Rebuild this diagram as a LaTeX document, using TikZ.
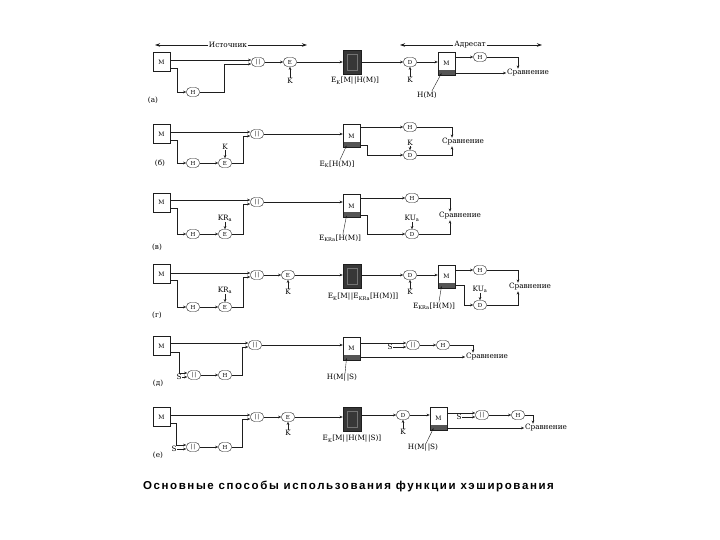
\documentclass[tikz,border=0pt]{standalone}
\usepackage{fontspec}
\setmainfont{DejaVu Serif}
\newfontfamily\capfont[LetterSpace=14]{Liberation Sans}
\usetikzlibrary{
    arrows.meta,
    positioning,
    calc
}
\definecolor{ciphgray}{RGB}{55,55,55}
\definecolor{bandgray}{RGB}{85,85,85}
\definecolor{inkline}{RGB}{30,30,30}
\newcommand{\cat}{|\kern0.7pt|}
\tikzset{
  msg/.style     = {draw, fill=white, minimum width=17pt, minimum height=19pt,
                    inner sep=0pt, font=\fontsize{6}{6}\selectfont},
  recv/.style    = {msg, minimum height=23pt,
                    path picture={\fill[bandgray] (path picture bounding box.south west)
                      rectangle ([yshift=5pt]path picture bounding box.south east);}},
  ciph/.style    = {draw, fill=ciphgray, minimum width=18pt, minimum height=24pt,
                    inner sep=0pt,
                    path picture={\draw[black!55, line width=0.6pt]
                      ([shift={(4pt,4pt)}]path picture bounding box.south west)
                      rectangle ([shift={(-4pt,-4pt)}]path picture bounding box.north east);}},
  op/.style      = {draw, fill=white, rounded corners=4pt, minimum width=13pt,
                    minimum height=9pt, inner sep=0pt, font=\fontsize{5.5}{5.5}\selectfont},
  lbl/.style     = {inner sep=0.6pt, font=\fontsize{7.3}{8}\selectfont},
  arr/.style     = {-{Stealth[length=3.2pt, width=2.6pt]}, line width=0.5pt, inkline},
  harr/.style    = {-{Stealth[length=5pt, width=3.5pt]}, line width=0.7pt, inkline},
  pointer/.style = {-{Stealth[length=2.4pt, width=2pt]}, line width=0.4pt, inkline}
}

\begin{document}
\begin{tikzpicture}[x=1pt, y=-1pt, draw=inkline]
  \useasboundingbox (0,0) rectangle (720,540);

  % header
  \node[lbl, fill=white] (src) at (228,45) {Источник};
  \coordinate (srcL) at (155,45);
  \coordinate (srcR) at (307,45);
  \draw[harr] (src) -- (srcL);
  \draw[harr] (src) -- (srcR);
  \node[lbl, fill=white] (dst) at (470,45) {Адресат};
  \coordinate (dstL) at (400,45);
  \coordinate (dstR) at (542,45);
  \draw[harr] (dst) -- (dstL);
  \draw[harr] (dst) -- (dstR);

  % (а)
  \node[msg]  (mA)    at (161.5,62) {M};
  \node[op]   (catA)  at (258,62) {\cat};
  \node[op]   (hA)    at (193,92) {H};
  \node[op]   (eA)    at (290,62) {E};
  \node[lbl]  (kA)    at (290,81) {K};
  \node[ciph] (cA)    at (352,62) {};
  \node[lbl]  (cAlab) at (355,81) {E\textsubscript{K}[M\cat H(M)]};
  \node[op]   (dA)    at (410,62) {D};
  \node[lbl]  (kA2)   at (410,80) {K};
  \node[recv] (rA)    at (446.5,63.5) {M};
  \node[op]   (hA2)   at (480,57) {H};
  \node[lbl]  (cmpA)  at (528,73) {Сравнение};
  \node[lbl]  (rAlab) at (427,95) {H(M)};
  \node[lbl]  (tagA)  at (153,100) {(а)};
  \coordinate (catAi1) at ([yshift=2pt]catA.west);
  \coordinate (catAi2) at ([yshift=-2pt]catA.west);
  \draw[arr] (mA.east |- catAi1) -- (catAi1);
  \draw[arr] ([yshift=-6pt]mA.east) -- ++(7,0) |- (hA);
  \draw[arr] (hA) -| ([xshift=-27pt]catAi2) -- (catAi2);
  \draw[arr] (catA) -- (eA);
  \draw[arr] (kA) -- (eA);
  \draw[arr] (eA) -- (eA -| cA.west);
  \draw[arr] (cA.east |- dA) -- (dA);
  \draw[arr] (kA2) -- (dA);
  \draw[arr] (dA) -- (dA -| rA.west);
  \draw[arr] (rA.east |- hA2) -- (hA2);
  \draw[arr] (hA2) -| ([xshift=-10pt]cmpA.north);
  \draw[arr] (rA.east |- cmpA.west) -- (cmpA.west);
  \draw[pointer] ([xshift=5pt]rAlab.north) -- ([xshift=-5pt,yshift=2pt]rA.south);

  % (б)
  \node[msg]  (mB)    at (161.5,134) {M};
  \node[op]   (catB)  at (257,134) {\cat};
  \node[op]   (hB)    at (193,163) {H};
  \node[op]   (eB)    at (225,163) {E};
  \node[lbl]  (kB)    at (225,147) {K};
  \node[recv] (rB)    at (351.5,136) {M};
  \node[lbl]  (rBlab) at (337,164) {E\textsubscript{K}[H(M)]};
  \node[op]   (hB2)   at (410,127) {H};
  \node[op]   (dB)    at (410,155) {D};
  \node[lbl]  (kB2)   at (410,143) {K};
  \node[lbl]  (cmpB)  at (463,142) {Сравнение};
  \node[lbl]  (tagB)  at (160,163) {(б)};
  \coordinate (catBi1) at ([yshift=2pt]catB.west);
  \coordinate (catBi2) at ([yshift=-2pt]catB.west);
  \draw[arr] (mB.east |- catBi1) -- (catBi1);
  \draw[arr] ([yshift=-6pt]mB.east) -- ++(7,0) |- (hB);
  \draw[arr] (hB) -- (eB);
  \draw[arr] (kB) -- (eB);
  \draw[arr] (eB) -| ([xshift=-7pt]catBi2) -- (catBi2);
  \draw[arr] (catB) -- (catB -| rB.west);
  \draw[arr] (rB.east |- hB2) -- (hB2);
  \draw[arr] ([yshift=-9pt]rB.east) -- ++(7,0) |- (dB);
  \draw[arr] (kB2) -- (dB);
  \draw[arr] (hB2) -| ([xshift=-11pt]cmpB.north);
  \draw[arr] (dB) -| ([xshift=-11pt]cmpB.south);
  \draw[pointer] ([xshift=3pt]rBlab.north) -- ([xshift=-5pt,yshift=2pt]rB.south);

  % (в)
  \node[msg]  (mC)    at (161.5,202.5) {M};
  \node[op]   (catC)  at (257,202) {\cat};
  \node[op]   (hC)    at (193,234) {H};
  \node[op]   (eC)    at (225,234) {E};
  \node[lbl]  (kC)    at (225,218) {KR\textsubscript{a}};
  \node[recv] (rC)    at (351.5,206) {M};
  \node[lbl]  (rClab) at (340,238) {E\textsubscript{KRa}[H(M)]};
  \node[op]   (hC2)   at (412,198) {H};
  \node[op]   (dC)    at (412,234) {D};
  \node[lbl]  (kC2)   at (412,218) {KU\textsubscript{a}};
  \node[lbl]  (cmpC)  at (460,216) {Сравнение};
  \node[lbl]  (tagC)  at (157,247) {(в)};
  \coordinate (catCi1) at ([yshift=2pt]catC.west);
  \coordinate (catCi2) at ([yshift=-2pt]catC.west);
  \draw[arr] (mC.east |- catCi1) -- (catCi1);
  \draw[arr] ([yshift=-6pt]mC.east) -- ++(7,0) |- (hC);
  \draw[arr] (hC) -- (eC);
  \draw[arr] (kC) -- (eC);
  \draw[arr] (eC) -| ([xshift=-7pt]catCi2) -- (catCi2);
  \draw[arr] (catC) -- (catC -| rC.west);
  \draw[arr] (rC.east |- hC2) -- (hC2);
  \draw[arr] ([yshift=-9pt]rC.east) -- ++(7,0) |- (dC);
  \draw[arr] (kC2) -- (dC);
  \draw[arr] (hC2) -| ([xshift=-10pt]cmpC.north);
  \draw[arr] (dC) -| ([xshift=-10pt]cmpC.south);
  \draw[pointer] ([xshift=3pt]rClab.north) -- ([xshift=-5pt,yshift=2pt]rC.south);

  % (г)
  \node[msg]  (mD)    at (161.5,274) {M};
  \node[op]   (catD)  at (257,275) {\cat};
  \node[op]   (hD)    at (193,307) {H};
  \node[op]   (eD)    at (225,307) {E};
  \node[lbl]  (kD)    at (225,290) {KR\textsubscript{a}};
  \node[op]   (eD2)   at (288,275) {E};
  \node[lbl]  (kD2)   at (288,292) {K};
  \node[ciph] (cD)    at (352,276.5) {};
  \node[lbl]  (cDlab) at (363,297) {E\textsubscript{K}[M\cat E\textsubscript{KRa}[H(M)]]};
  \node[op]   (dD)    at (410,275) {D};
  \node[lbl]  (kD3)   at (410,292) {K};
  \node[recv] (rD)    at (446.5,276.5) {M};
  \node[op]   (hD2)   at (480,270) {H};
  \node[op]   (dD2)   at (480,305) {D};
  \node[lbl]  (kD4)   at (480,289) {KU\textsubscript{a}};
  \node[lbl]  (cmpD)  at (530,287) {Сравнение};
  \node[lbl]  (rDlab) at (434,306) {E\textsubscript{KRa}[H(M)]};
  \node[lbl]  (tagD)  at (157,315) {(г)};
  \coordinate (catDi1) at ([yshift=2pt]catD.west);
  \coordinate (catDi2) at ([yshift=-2pt]catD.west);
  \draw[arr] (mD.east |- catDi1) -- (catDi1);
  \draw[arr] ([yshift=-6pt]mD.east) -- ++(7,0) |- (hD);
  \draw[arr] (hD) -- (eD);
  \draw[arr] (kD) -- (eD);
  \draw[arr] (eD) -| ([xshift=-7pt]catDi2) -- (catDi2);
  \draw[arr] (catD) -- (eD2);
  \draw[arr] (kD2) -- (eD2);
  \draw[arr] (eD2) -- (eD2 -| cD.west);
  \draw[arr] (cD.east |- dD) -- (dD);
  \draw[arr] (kD3) -- (dD);
  \draw[arr] (dD) -- (dD -| rD.west);
  \draw[arr] (rD.east |- hD2) -- (hD2);
  \draw[arr] ([yshift=-9pt]rD.east) -- ++(9,0) |- (dD2);
  \draw[arr] (kD4) -- (dD2);
  \draw[arr] (hD2) -| ([xshift=-12pt]cmpD.north);
  \draw[arr] (dD2) -| ([xshift=-12pt]cmpD.south);
  \draw[pointer] ([xshift=5pt]rDlab.north) -- ([xshift=-5pt,yshift=2pt]rD.south);

  % (д)
  \node[msg]  (mE)    at (161.5,346) {M};
  \node[op]   (catE)  at (255,345) {\cat};
  \node[op]   (catEs) at (194,375) {\cat};
  \node[op]   (hE)    at (225,375) {H};
  \node[lbl]  (tagE)  at (158,383) {(д)};
  \node[recv] (rE)    at (351.5,348.5) {M};
  \node[lbl]  (rElab) at (342,378) {H(M\cat S)};
  \node[op]   (catEr) at (413,345) {\cat};
  \node[op]   (hE2)   at (443,345) {H};
  \node[lbl]  (cmpE)  at (487,357) {Сравнение};
  \coordinate (catEi1)  at ([yshift=2pt]catE.west);
  \coordinate (catEi2)  at ([yshift=-2pt]catE.west);
  \coordinate (catEsi1) at ([yshift=2pt]catEs.west);
  \coordinate (catEsi2) at ([yshift=-2pt]catEs.west);
  \coordinate (catEri1) at ([yshift=2pt]catEr.west);
  \coordinate (catEri2) at ([yshift=-2pt]catEr.west);
  \node[lbl, anchor=east] (sE)  at ([xshift=-5pt]catEsi2) {S};
  \node[lbl, anchor=east] (sE2) at ([xshift=-13pt]catEri2) {S};
  \draw[arr] (mE.east |- catEi1) -- (catEi1);
  \draw[arr] ([yshift=-6pt]mE.east) -- ++(9,0) |- (catEsi1);
  \draw[arr] (sE) -- (catEsi2);
  \draw[arr] (catEs) -- (hE);
  \draw[arr] (hE) -| ([xshift=-6pt]catEi2) -- (catEi2);
  \draw[arr] (catE) -- (catE -| rE.west);
  \draw[arr] (rE.east |- catEri1) -- (catEri1);
  \draw[arr] (sE2) -- (catEri2);
  \draw[arr] (catEr) -- (hE2);
  \draw[arr] (hE2) -| ([xshift=-14pt]cmpE.north);
  \draw[arr] (rE.east |- cmpE.west) -- (cmpE.west);
  \draw[pointer] ([xshift=3pt]rElab.north) -- ([xshift=-5pt,yshift=2pt]rE.south);

  % (е)
  \node[msg]  (mF)    at (161.5,417) {M};
  \node[op]   (catF)  at (257,417) {\cat};
  \node[op]   (catFs) at (193,447) {\cat};
  \node[op]   (hF)    at (225,447) {H};
  \node[op]   (eF)    at (288,417) {E};
  \node[lbl]  (kF)    at (288,433) {K};
  \node[ciph] (cF)    at (352,419.5) {};
  \node[lbl]  (cFlab) at (352,439) {E\textsubscript{K}[M\cat H(M\cat S)]};
  \node[op]   (dF)    at (403,415) {D};
  \node[lbl]  (kF2)   at (403,432) {K};
  \node[recv] (rF)    at (438.5,418.5) {M};
  \node[op]   (catFr) at (482,415) {\cat};
  \node[op]   (hF2)   at (518,415) {H};
  \node[lbl]  (cmpF)  at (546,428) {Сравнение};
  \node[lbl]  (rFlab) at (423,448) {H(M\cat S)};
  \node[lbl]  (tagF)  at (158,455) {(е)};
  \coordinate (catFi1)  at ([yshift=2pt]catF.west);
  \coordinate (catFi2)  at ([yshift=-2pt]catF.west);
  \coordinate (catFsi1) at ([yshift=2pt]catFs.west);
  \coordinate (catFsi2) at ([yshift=-2pt]catFs.west);
  \coordinate (catFri1) at ([yshift=2pt]catFr.west);
  \coordinate (catFri2) at ([yshift=-2pt]catFr.west);
  \node[lbl, anchor=east] (sF)  at ([xshift=-9pt]catFsi2) {S};
  \node[lbl, anchor=east] (sF2) at ([xshift=-13pt]catFri2) {S};
  \draw[arr] (mF.east |- catFi1) -- (catFi1);
  \draw[arr] ([yshift=-6pt]mF.east) -- ++(6,0) |- (catFsi1);
  \draw[arr] (sF) -- (catFsi2);
  \draw[arr] (catFs) -- (hF);
  \draw[arr] (hF) -| ([xshift=-8pt]catFi2) -- (catFi2);
  \draw[arr] (catF) -- (eF);
  \draw[arr] (kF) -- (eF);
  \draw[arr] (eF) -- (eF -| cF.west);
  \draw[arr] (cF.east |- dF) -- (dF);
  \draw[arr] (kF2) -- (dF);
  \draw[arr] (dF) -- (dF -| rF.west);
  \draw[arr] (rF.east |- catFri1) -- (catFri1);
  \draw[arr] (sF2) -- (catFri2);
  \draw[arr] (catFr) -- (hF2);
  \draw[arr] (hF2) -| ([xshift=-13pt]cmpF.north);
  \draw[arr] (rF.east |- cmpF.west) -- (cmpF.west);
  \draw[pointer] ([xshift=3pt]rFlab.north) -- ([xshift=-5pt,yshift=2pt]rF.south);

  \node[font=\capfont\bfseries\fontsize{11.5}{13}\selectfont] (cap) at (348.5,486)
    {Основные способы использования функции хэширования};
\end{tikzpicture}
\end{document}
